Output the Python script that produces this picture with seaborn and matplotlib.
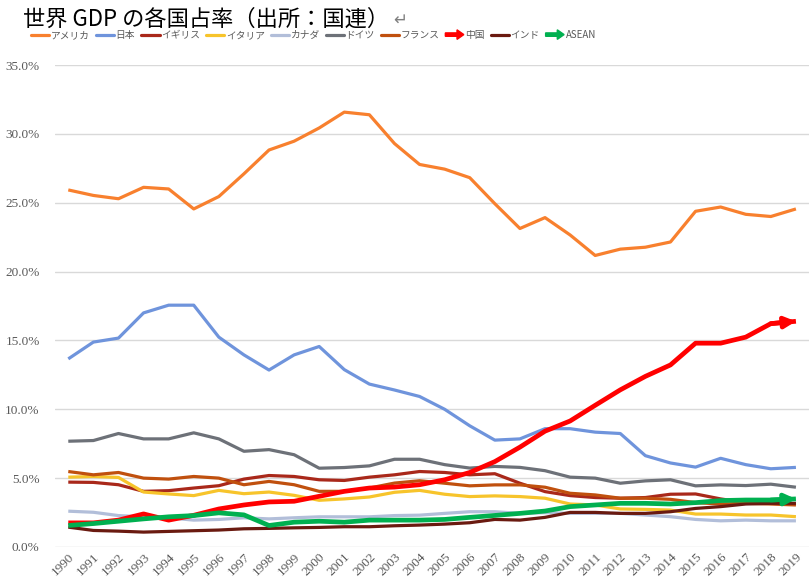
import pandas as pd
import matplotlib
matplotlib.use("Agg")
import matplotlib.pyplot as plt
import matplotlib.patches as mpatches
from matplotlib.lines import Line2D
from matplotlib.legend_handler import HandlerPatch
import seaborn as sns

# 世界GDPに占める各国の割合 (%)
years = list(range(1990, 2020))

usa = [25.93, 25.53, 25.29, 26.12, 26.0, 24.55, 25.45, 27.1, 28.83, 29.47,
       30.43, 31.58, 31.39, 29.3, 27.78, 27.44, 26.82, 24.93, 23.13, 23.92,
       22.66, 21.17, 21.63, 21.77, 22.15, 24.38, 24.69, 24.16, 24.0, 24.55]
japan = [13.66, 14.88, 15.17, 17.0, 17.56, 17.56, 15.24, 13.95, 12.85, 13.95,
         14.56, 12.88, 11.83, 11.4, 10.93, 10.0, 8.8, 7.76, 7.85, 8.59,
         8.59, 8.34, 8.24, 6.63, 6.1, 5.8, 6.44, 5.98, 5.68, 5.78]
uk = [4.71, 4.69, 4.52, 4.04, 4.09, 4.28, 4.45, 4.93, 5.19, 5.12,
      4.88, 4.83, 5.07, 5.24, 5.48, 5.41, 5.24, 5.32, 4.63, 4.02,
      3.73, 3.59, 3.54, 3.59, 3.83, 3.85, 3.49, 3.22, 3.17, 3.12]
italy = [5.07, 5.12, 5.05, 3.99, 3.85, 3.73, 4.11, 3.87, 3.99, 3.75,
         3.39, 3.49, 3.63, 3.97, 4.11, 3.83, 3.66, 3.71, 3.66, 3.54,
         3.12, 3.05, 2.76, 2.73, 2.68, 2.39, 2.39, 2.32, 2.32, 2.2]
canada = [2.6, 2.52, 2.28, 2.19, 2.12, 1.95, 2.0, 2.12, 2.04, 2.12,
          2.19, 2.19, 2.19, 2.28, 2.31, 2.44, 2.56, 2.56, 2.44, 2.49,
          2.44, 2.44, 2.44, 2.32, 2.2, 2.0, 1.9, 1.95, 1.9, 1.9]
germany = [7.68, 7.73, 8.24, 7.85, 7.85, 8.29, 7.85, 6.95, 7.07, 6.7,
           5.72, 5.77, 5.89, 6.37, 6.37, 5.98, 5.73, 5.85, 5.78, 5.54,
           5.07, 5.0, 4.63, 4.8, 4.88, 4.44, 4.51, 4.46, 4.56, 4.34]
france = [5.48, 5.24, 5.41, 5.0, 4.93, 5.12, 5.0, 4.52, 4.76, 4.52,
          4.04, 4.04, 4.28, 4.64, 4.81, 4.63, 4.44, 4.51, 4.51, 4.34,
          3.9, 3.78, 3.54, 3.54, 3.46, 3.22, 3.12, 3.17, 3.12, 3.05]
china = [1.75, 1.75, 1.95, 2.4, 1.95, 2.3, 2.76, 3.05, 3.27, 3.32,
         3.68, 4.04, 4.28, 4.35, 4.52, 4.88, 5.41, 6.2, 7.25, 8.41,
         9.15, 10.29, 11.41, 12.39, 13.22, 14.8, 14.8, 15.24, 16.22, 16.39]
india = [1.44, 1.2, 1.15, 1.08, 1.13, 1.18, 1.23, 1.32, 1.35, 1.39,
         1.42, 1.47, 1.47, 1.54, 1.59, 1.66, 1.76, 2.0, 1.95, 2.15,
         2.51, 2.51, 2.44, 2.44, 2.56, 2.8, 2.93, 3.12, 3.17, 3.17]
asean = [1.56, 1.7, 1.87, 2.04, 2.19, 2.28, 2.48, 2.33, 1.56, 1.8,
         1.87, 1.8, 1.95, 1.95, 1.95, 2.0, 2.15, 2.29, 2.44, 2.61,
         2.93, 3.05, 3.17, 3.17, 3.12, 3.22, 3.37, 3.41, 3.41, 3.49]

names = ["アメリカ", "日本", "イギリス", "イタリア", "カナダ", "ドイツ", "フランス", "中国", "インド", "ASEAN"]
series = [usa, japan, uk, italy, canada, germany, france, china, india, asean]
colors = ["#f8802e", "#6f94dc", "#a9281a", "#f7c42b", "#b2bed9",
          "#6d7178", "#c0500e", "#ff0000", "#6a1a10", "#00b050"]
arrow_names = ["中国", "ASEAN"]
y_ticks = [0, 5, 10, 15, 20, 25, 30, 35]

df = pd.DataFrame({"year": years * len(names),
                   "country": [n for n in names for _ in years],
                   "share": [v for s in series for v in s]})

sns.set_theme(style="white")
plt.rcParams["font.family"] = ["Noto Sans CJK JP", "DejaVu Sans"]

fig = plt.figure(figsize=(8.11, 5.86), dpi=100)
ax = fig.add_axes([0.0678, 0.0666, 0.9297, 0.8224])

for name, color in zip(names, colors):
    lw = 3.4 if name in arrow_names else 2.3
    sns.lineplot(data=df[df["country"] == name], x="year", y="share", color=color,
                 linewidth=lw, ax=ax, legend=False, solid_capstyle="butt")
    if name in arrow_names:
        d = df[df["country"] == name]
        ax.annotate("", xy=(d["year"].iloc[-1], d["share"].iloc[-1]),
                    xytext=(d["year"].iloc[-2], d["share"].iloc[-2]),
                    arrowprops=dict(arrowstyle="-|>", color=color, lw=lw,
                                    mutation_scale=16, shrinkA=0, shrinkB=0))

ax.set_xlim(1989.47, 2019.52)
ax.set_ylim(0, 35)
ax.set_yticks(y_ticks, [f"{v:.1f}%" for v in y_ticks],
              fontfamily="Liberation Serif", fontsize=9.5, color="#595959")
ax.set_xticks(years, [str(y) for y in years], fontfamily="Liberation Serif",
              fontsize=9.5, color="#595959", rotation=45, ha="right",
              rotation_mode="anchor")
ax.set_xlabel("")
ax.set_ylabel("")
ax.grid(axis="y", color="#d9d9d9", linewidth=1)
ax.set_axisbelow(True)
for s in ax.spines.values():
    s.set_visible(False)
ax.tick_params(axis="both", length=0)
ax.tick_params(axis="y", pad=11)
ax.tick_params(axis="x", pad=3)

# タイトル
title = fig.text(23 / 811, 1 - 19 / 586, "世界 GDP の各国占率（出所：国連）",
                 fontsize=16, va="center", ha="left", color="#000000")
ax.annotate("↵", xy=(1, 0.45), xycoords=title, xytext=(3, 0), textcoords="offset points",
            va="center", ha="left", fontsize=12, color="#7f7f7f",
            family=["DejaVu Sans"], annotation_clip=False)


def make_arrow(legend, orig_handle, xdescent, ydescent, width, height, fontsize):
    return mpatches.FancyArrow(-xdescent, height / 2 - ydescent, width, 0, width=height * 0.5,
                               head_width=height * 1.4, head_length=height * 1.0,
                               length_includes_head=True, color=orig_handle.get_facecolor())


handles = []
for name, color in zip(names, colors):
    if name in arrow_names:
        handles.append(mpatches.Patch(color=color, label=name))
    else:
        handles.append(Line2D([], [], color=color, linewidth=2.3, label=name))

fig.legend(handles=handles, loc="upper left", bbox_to_anchor=(31 / 811, 1 - 30 / 586),
           ncol=10, frameon=False, fontsize=7, handlelength=1.9, handletextpad=0.15,
           columnspacing=0.6, borderpad=0, borderaxespad=0, labelcolor="#595959",
           handler_map={mpatches.Patch: HandlerPatch(patch_func=make_arrow)})

fig.savefig("out.png", dpi=100)
